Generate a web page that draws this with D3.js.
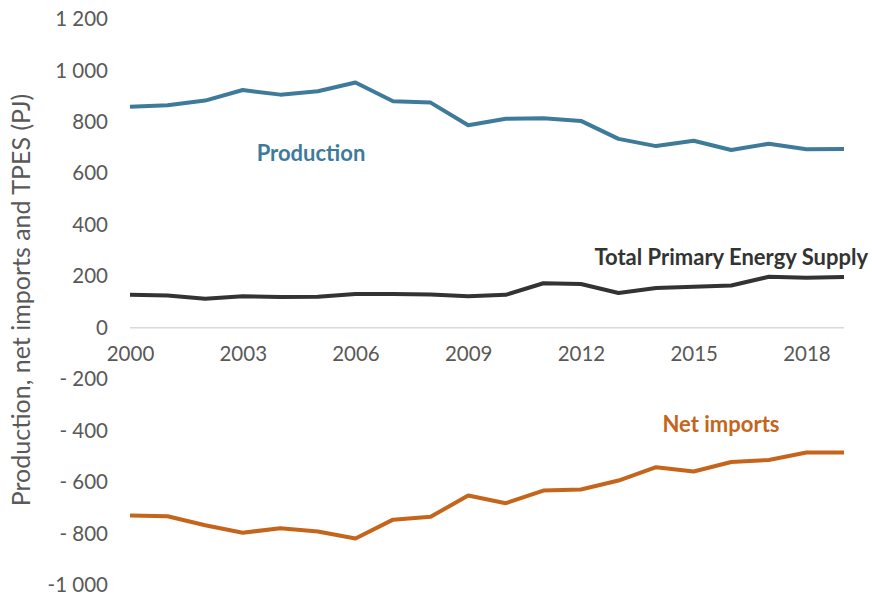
<!DOCTYPE html>
<html>
<head>
<meta charset="utf-8">
<script src="https://cdn.jsdelivr.net/npm/d3@7"></script>
<style>
  body { margin: 0; background: #fff; }
  svg text { font-family: Lato, "Open Sans", sans-serif; }
</style>
</head>
<body>
<div id="chart"></div>
<script>
// data (PJ)
const years = d3.range(2000, 2020);
const production = [859, 865, 883, 924, 906, 919, 953, 880, 875, 787,
                    812, 814, 804, 734, 706, 727, 691, 715, 694, 695];
const tpes = [128, 125, 113, 122, 119, 120, 131, 131, 129, 122,
              128, 173, 170, 135, 154, 159, 164, 198, 194, 197];
const netImports = [-730, -733, -768, -797, -779, -792, -819, -746, -735, -652,
                    -682, -633, -629, -594, -542, -559, -522, -514, -485, -485];
const yTicks = [-1000, -800, -600, -400, -200, 0, 200, 400, 600, 800, 1000, 1200];
const xTicks = [2000, 2003, 2006, 2009, 2012, 2015, 2018];

const width = 872, height = 595;

const svg = d3.select("#chart")
    .append("svg")
    .attr("width", width)
    .attr("height", height);

const x = d3.scaleLinear().domain([2000, 2019]).range([130, 844]);
const y = d3.scaleLinear().domain([-1000, 1200]).range([585, 19]);

// format like "1 200", "- 200", "-1 000"
function fmt(v) {
    const a = Math.abs(v);
    const s = a >= 1000 ? Math.floor(a / 1000) + " " + String(a % 1000).padStart(3, "0") : String(a);
    if (v < 0) return a >= 1000 ? "-" + s : "- " + s;
    return s;
}

// y axis labels
svg.append("g")
    .attr("transform", "translate(108,0)")
    .call(d3.axisLeft(y).tickValues(yTicks).tickSize(0).tickPadding(0).tickFormat(fmt))
    .call(g => g.select(".domain").remove())
    .selectAll("text")
    .attr("fill", "#595959")
    .style("font-size", "20.5px");

// zero line
svg.append("line")
    .attr("x1", x(2000)).attr("x2", x(2019))
    .attr("y1", y(0)).attr("y2", y(0))
    .attr("stroke", "#d9d9d9")
    .attr("stroke-width", 1.5);

// x axis labels under zero
svg.append("g")
    .attr("transform", `translate(0,${y(0)})`)
    .call(d3.axisBottom(x).tickValues(xTicks).tickSize(0).tickPadding(19).tickFormat(d3.format("d")))
    .call(g => g.select(".domain").remove())
    .selectAll("text")
    .attr("fill", "#595959")
    .style("font-size", "20.5px");

// y axis title
svg.append("text")
    .attr("transform", `translate(30,300) rotate(-90)`)
    .attr("text-anchor", "middle")
    .attr("fill", "#595959")
    .style("font-size", "25px")
    .text("Production, net imports and TPES (PJ)");

const line = d3.line()
    .x((d, i) => x(years[i]))
    .y(d => y(d));

const series = [
    { name: "Production", values: production, color: "#3e7b9b" },
    { name: "Total Primary Energy Supply", values: tpes, color: "#333333" },
    { name: "Net imports", values: netImports, color: "#c5651b" }
];

svg.selectAll(".series")
    .data(series)
    .enter()
    .append("path")
    .attr("class", "series")
    .attr("d", d => line(d.values))
    .attr("fill", "none")
    .attr("stroke", d => d.color)
    .attr("stroke-width", 4)
    .attr("stroke-linejoin", "round");

// labels on the chart
svg.append("text")
    .attr("x", 311).attr("y", 161)
    .attr("text-anchor", "middle")
    .attr("fill", "#3e7b9b")
    .style("font-size", "22px").style("font-weight", "bold")
    .text("Production");

svg.append("text")
    .attr("x", 868).attr("y", 265)
    .attr("text-anchor", "end")
    .attr("fill", "#333333")
    .style("font-size", "22px").style("font-weight", "bold")
    .text("Total Primary Energy Supply");

svg.append("text")
    .attr("x", 721).attr("y", 432)
    .attr("text-anchor", "middle")
    .attr("fill", "#c5651b")
    .style("font-size", "22px").style("font-weight", "bold")
    .text("Net imports");
</script>
</body>
</html>
